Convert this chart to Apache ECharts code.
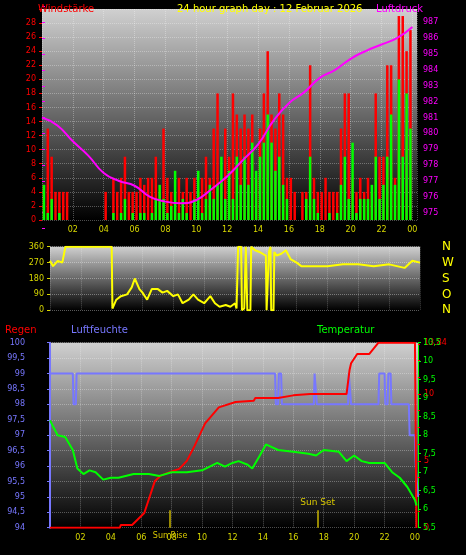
<!DOCTYPE html>
<html><head><meta charset="utf-8">
<script src="https://cdn.jsdelivr.net/npm/echarts@6/dist/echarts.min.js"></script>
<style>html,body{margin:0;padding:0;background:#000}#c{width:466px;height:555px}</style>
</head><body><div id="c"></div>
<script>
// Wind, 15-minute steps (4 per hour, hours 0..23)
const gust = [5,13,9,4, 4,4,4,0, 0,0,0,0, 0,0,0,0, 4,0,6,4, 6,9,4,4, 4,6,5,6, 6,9,4,13, 6,4,4,6, 4,6,4,6, 4,6,9,6, 13,18,6,13, 9,18,15,13, 15,13,15,6, 13,18,24,15, 13,18,15,6, 6,4,0,4, 4,22,6,4, 4,6,4,4, 4,13,18,18, 6,4,6,4, 6,4,18,9, 9,22,22,6, 29,29,24,27];
const avg  = [5,1,3,0, 1,0,0,0, 0,0,0,0, 0,0,0,0, 0,0,1,0, 1,3,0,1, 0,1,1,0, 1,3,5,3, 1,2,7,1, 3,1,0,3, 7,1,3,5, 3,5,9,3, 7,3,9,5, 9,5,11,7, 9,11,15,11, 7,9,5,3, 0,0,0,0, 3,9,3,1, 0,0,1,0, 1,5,9,3, 11,1,3,3, 3,5,9,3, 5,9,15,5, 20,9,18,13];
// Pressure hourly 0..24
const pressure = [981.0,980.5,979.5,978.6,977.5,977.0,976.7,976.0,975.7,975.6,975.8,976.5,977.3,978.3,979.3,980.8,981.9,982.6,983.5,984.0,984.7,985.2,985.6,986.0,986.7];
// Wind direction
const dirT = [0,0.2,0.5,0.8,1.0,4.0,4.05,4.3,4.6,5.0,5.3,5.5,5.8,6.0,6.3,6.6,7.0,7.3,7.6,8.0,8.3,8.6,9.0,9.3,9.6,10.0,10.4,10.7,11.0,11.4,11.7,12.0,12.1,12.2,12.4,12.45,12.6,12.7,12.8,13.0,13.05,13.3,13.6,14.0,14.05,14.15,14.2,14.3,14.35,14.5,14.55,14.7,15.0,15.3,15.6,16.0,16.3,17.0,18.0,19.0,20.0,21.0,22.0,23.0,23.5,24.0];
const dirV = [280,250,280,270,360,360,10,60,80,90,130,180,120,100,60,120,120,100,110,80,90,40,60,90,60,40,80,40,20,30,20,40,10,360,360,0,10,360,0,0,360,340,330,310,0,0,330,360,0,0,330,310,320,340,290,270,250,250,250,260,260,250,260,240,280,270];
// Bottom panel
const humT = [0,1.5,1.55,1.7,1.75,14.8,14.85,15.0,15.05,15.2,15.25,17.35,17.4,17.5,17.55,19.6,19.65,19.75,19.8,21.6,21.65,22.0,22.05,22.2,22.25,22.4,22.45,23.6,23.65,24.0,24.05,24.2];
const humV = [99,99,98,98,99,99,98,98,99,99,98,98,99,99,98,98,99,99,98,98,99,99,98,98,99,99,98,98,97,97,96,95];
const rainT = [0,4.6,4.65,5.4,6.2,6.9,7.3,7.74,8.5,9.0,9.5,10.2,11.1,12.2,13.4,13.5,15.0,16.0,17.1,19.5,19.7,19.8,20.2,21.0,21.6,24.0,24.1];
const rainV = [0,0,0.2,0.2,1.1,3.5,3.9,4.1,4.4,5.0,6.1,7.8,9.0,9.4,9.5,9.7,9.7,9.9,10.0,10.0,11.8,12.3,13.0,13.0,13.84,13.84,0];
const tempT = [0,0.5,1.0,1.5,1.8,2.2,2.6,3.0,3.5,4.0,4.5,5.5,6.5,7.2,8,9,10,11,11.5,12,12.4,13,13.3,13.8,14.2,15,16,17,17.5,18,19,19.5,20,20.5,21,22,22.5,23,23.5,24,24.1];
const tempV = [8.4,8.0,7.95,7.6,7.1,6.95,7.05,7.0,6.8,6.85,6.85,6.95,6.95,6.9,7.0,7.0,7.05,7.25,7.15,7.25,7.3,7.2,7.1,7.45,7.75,7.6,7.55,7.5,7.45,7.6,7.55,7.3,7.45,7.3,7.25,7.25,7.0,6.85,6.6,6.25,6.1];
const hourTicks = ['00','02','04','06','08','10','12','14','16','18','20','22','00'];

const pair = (t,v) => t.map((x,i)=>[x,v[i]]);
const bg = new echarts.graphic.LinearGradient(0,0,0,1,[{offset:0,color:'#d0d0d0'},{offset:1,color:'#000'}]);
const comma = v => String(v).replace('.',',');
const hourFmt = v => v===0 ? '' : hourTicks[Math.round(v/2)];
const fs = 8;
function xAx(grid, max, show, extra){
  return Object.assign({type:'value', gridIndex:grid, min:0, max:max, interval:2,
    axisLine:{show:false}, axisTick:{show:false},
    axisLabel:{show:show, color:'#d8d800', fontSize:fs, formatter:hourFmt, margin:6},
    splitLine:{show:show, lineStyle:{color:'rgba(255,255,255,0.3)', type:'dotted'}}}, extra||{});
}
const option = {
  backgroundColor:'#000', animation:false,
  textStyle:{fontFamily:'DejaVu Sans'},
  title:[
    {text:'Windstärke', left:33, top:-1, textStyle:{color:'#ff0000', fontSize:10, fontWeight:'normal'}},
    {text:'24 hour graph day : 12 Februar 2026', left:172, top:-1, textStyle:{color:'#ffff00', fontSize:10, fontWeight:'normal'}},
    {text:'Luftdruck', left:371, top:-1, textStyle:{color:'#ff00ff', fontSize:10, fontWeight:'normal'}},
    {text:'Regen', left:0, top:320, textStyle:{color:'#ff0000', fontSize:10, fontWeight:'normal'}},
    {text:'Luftfeuchte', left:66, top:320, textStyle:{color:'#7777ff', fontSize:10, fontWeight:'normal'}},
    {text:'Temperatur', left:312, top:320, textStyle:{color:'#00ff00', fontSize:10, fontWeight:'normal'}}
  ],
  grid:[
    {left:42, right:49, top:9, height:211, show:true, backgroundColor:bg, borderWidth:0},
    {left:42, right:49, top:6.4, height:222.2},
    {left:50, right:46, top:246.7, height:63.6, show:true, backgroundColor:bg, borderWidth:0},
    {left:50, right:48, top:342.7, height:185, show:true, backgroundColor:bg, borderWidth:0}
  ],
  xAxis:[
    xAx(0,24.3,true),
    xAx(1,24.3,false),
    xAx(2,24,false,{splitLine:{show:true,lineStyle:{color:'rgba(255,255,255,0.25)',type:'dotted'}}}),
    xAx(3,24.2,true)
  ],
  yAxis:[
    {type:'value', gridIndex:0, min:0, max:30, interval:2, axisLine:{show:false}, axisTick:{show:true,length:3,lineStyle:{color:'#ff0000'}},
     axisLabel:{color:'#ff0000', fontSize:fs, margin:6, formatter:v=>v===30?'':v}, splitLine:{lineStyle:{color:'rgba(255,255,255,0.3)',type:'dotted'}}},
    {type:'value', gridIndex:1, min:974, max:988, interval:1, position:'right', axisLine:{show:false}, axisTick:{show:true,length:3,lineStyle:{color:'#ff00ff'}},
     axisLabel:{color:'#ff00ff', fontSize:fs, margin:6, formatter:v=>(v<975||v>987)?'':v}, splitLine:{show:false}},
    {type:'value', gridIndex:2, min:0, max:360, interval:90, axisLine:{show:false}, axisTick:{show:true,length:3,lineStyle:{color:'#d8d800'}},
     axisLabel:{color:'#d8d800', fontSize:fs, margin:6}, splitLine:{lineStyle:{color:'rgba(255,255,255,0.35)',type:'dotted'}}},
    {type:'value', gridIndex:2, min:0, max:360, interval:90, position:'right', offset:14, axisLine:{show:false}, axisTick:{show:false},
     axisLabel:{color:'#ffff00', fontSize:12, formatter:v=>({0:'N',90:'O',180:'S',270:'W',360:'N'})[v]}, splitLine:{show:false}},
    {type:'value', gridIndex:3, min:94, max:100, interval:0.5, offset:20, axisLine:{show:true,lineStyle:{color:'#7777ff',width:2}}, axisTick:{show:true,length:3},
     axisLabel:{color:'#7777ff', fontSize:fs, margin:5, formatter:comma}, splitLine:{lineStyle:{color:'rgba(255,255,255,0.3)',type:'dotted'}}},
    {type:'value', gridIndex:3, min:0, max:13.84, interval:5, axisLine:{show:false}, axisTick:{show:true,length:3,lineStyle:{color:'#ff0000'}},
     minorTick:{show:true,splitNumber:4,length:2,lineStyle:{color:'#ff0000'}},
     axisLabel:{color:'#ff0000', fontSize:fs, margin:6}, splitLine:{show:false}},
    {type:'value', gridIndex:3, min:5.5, max:10.5, interval:0.5, position:'right', axisLine:{show:true,lineStyle:{color:'#00ff00'}}, axisTick:{show:true,length:3},
     axisLabel:{color:'#00ff00', fontSize:fs, margin:5, formatter:comma}, splitLine:{show:false}}
  ],
  series:[
    {type:'bar', xAxisIndex:0, yAxisIndex:0, data:gust.map((v,i)=>[i*0.25+0.125,v]), barWidth:2.5, barGap:'-100%', itemStyle:{color:'#ff0000'}},
    {type:'bar', xAxisIndex:0, yAxisIndex:0, data:avg.map((v,i)=>[i*0.25+0.125,v]), barWidth:2.5, barGap:'-100%', itemStyle:{color:'#00ff00'}},
    {type:'line', xAxisIndex:1, yAxisIndex:1, data:pressure.map((v,i)=>[i,v]), smooth:true, showSymbol:false, lineStyle:{color:'#ff00ff', width:2}},
    {type:'line', xAxisIndex:2, yAxisIndex:2, data:pair(dirT,dirV), showSymbol:false, lineStyle:{color:'#ffff00', width:2}},
    {type:'line', xAxisIndex:3, yAxisIndex:4, data:pair(humT,humV), showSymbol:false, lineStyle:{color:'#7777ff', width:2}},
    {type:'line', xAxisIndex:3, yAxisIndex:5, data:pair(rainT,rainV), showSymbol:false, lineStyle:{color:'#ff0000', width:2},
     markLine:{symbol:'none', silent:true, lineStyle:{color:'#c8b400', type:'solid', width:1.5},
       data:[
         [{coord:[7.9,0], label:{show:true, position:'start', formatter:'Sun Rise', color:'#d8c800', fontSize:8, distance:4}},{coord:[7.9,1.3]}],
         [{coord:[17.6,0], label:{show:true, position:'end', formatter:'Sun Set', color:'#d8c800', fontSize:9, distance:3}},{coord:[17.6,1.3]}]
       ]}},
    {type:'line', xAxisIndex:3, yAxisIndex:6, data:pair(tempT,tempV), showSymbol:false, lineStyle:{color:'#00ff00', width:2}}
  ]
};
echarts.init(document.getElementById('c')).setOption(option);
</script></body></html>
